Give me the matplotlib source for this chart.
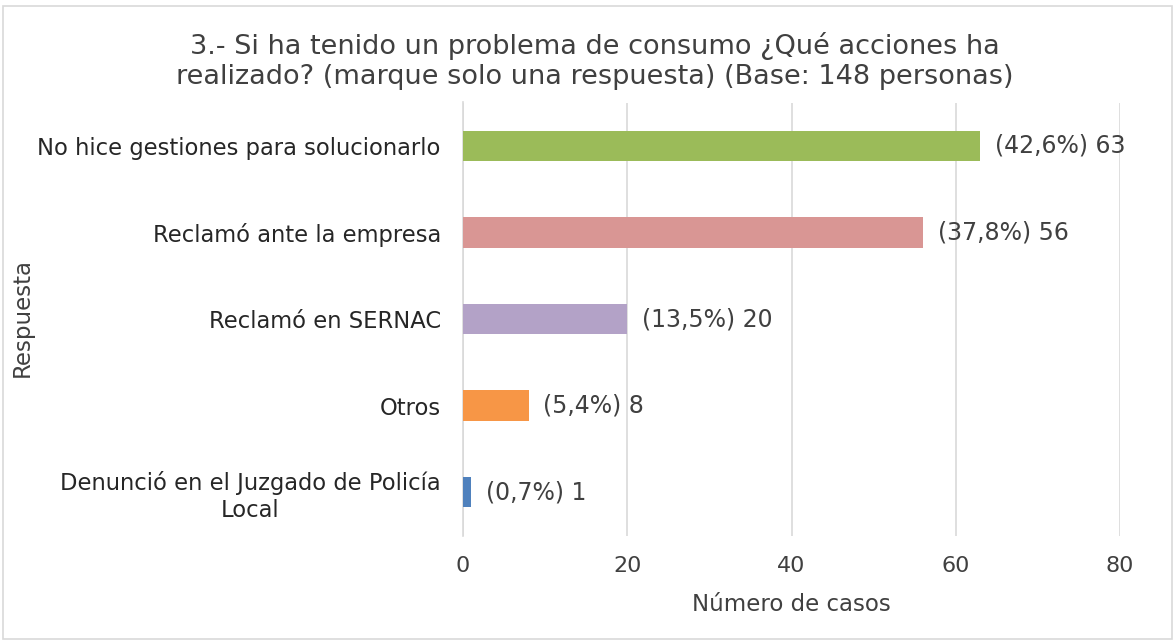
import matplotlib
matplotlib.use("Agg")
import matplotlib.pyplot as plt
from matplotlib.patches import Rectangle

categories = ["Denunció en el Juzgado de Policía\nLocal", "Otros", "Reclamó en SERNAC",
              "Reclamó ante la empresa", "No hice gestiones para solucionarlo"]
values = [1, 8, 20, 56, 63]
percents = ["0,7%", "5,4%", "13,5%", "37,8%", "42,6%"]
colors = ["#4F81BD", "#F79646", "#B3A2C7", "#D99694", "#9BBB59"]
xticks = [0, 20, 40, 60, 80]

W, H = 1175, 642
fig = plt.figure(figsize=(W / 100, H / 100), dpi=100)
ax = fig.add_axes([463 / W, 1 - 535.5 / H, (1120 - 463) / W, (535.5 - 102.5) / H])

y = list(range(len(categories)))
ax.barh(y, values, height=0.35, color=colors, zorder=3)
ax.set_ylim(-0.5, len(categories) - 0.5)
ax.set_xlim(0, 80)
ax.set_xticks(xticks)
ax.set_yticks(y)
ax.set_yticklabels(categories, fontsize=16.3, color="#262626", ha="right")
ax.tick_params(axis="y", length=0, pad=16)
ax.tick_params(axis="x", length=0, labelsize=16, labelcolor="#404040", pad=15)
for lab in ax.get_yticklabels():
    lab.set_multialignment("center")
ax.grid(axis="x", color="#D9D9D9", linewidth=1.2, zorder=0)
for s in ["top", "right", "bottom"]:
    ax.spines[s].set_visible(False)
ax.spines["left"].set_color("#D9D9D9")
ax.spines["left"].set_linewidth(1.2)

for yi, v, p in zip(y, values, percents):
    ax.text(v + 1.8, yi, f"({p}) {v}", va="center", ha="left", fontsize=17, color="#404040")

ax.set_xlabel("Número de casos", fontsize=16.5, color="#404040", labelpad=12)
fig.text(22 / W, 1 - 318 / H, "Respuesta", rotation=90, va="center", ha="center",
         fontsize=16.5, color="#404040")
fig.text(595 / W, 1 - 61 / H,
         "3.- Si ha tenido un problema de consumo ¿Qué acciones ha\nrealizado? (marque solo una respuesta) (Base: 148 personas)",
         ha="center", va="center", fontsize=19.5, color="#404040", linespacing=1.2)

fig.patches.append(Rectangle((3 / W, 3 / H), (W - 6) / W, (H - 9) / H, transform=fig.transFigure,
                             fill=False, edgecolor="#D9D9D9", linewidth=1.2))
fig.savefig("out.png", dpi=100)
